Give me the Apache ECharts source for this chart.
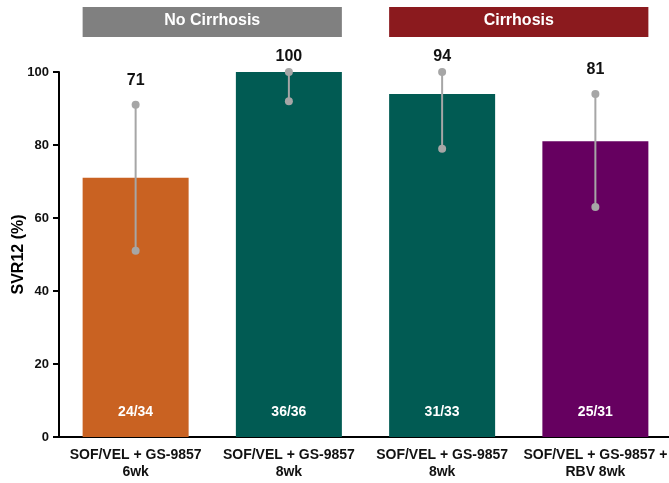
<!DOCTYPE html>
<html>
<head>
<meta charset="utf-8">
<script src="https://cdn.jsdelivr.net/npm/echarts@6/dist/echarts.min.js"></script>
<style>
    html, body { margin: 0; padding: 0; background: #fff; }
    #chart { width: 669px; height: 483px; }
</style>
</head>
<body>
<div id="chart"></div>
<script>
    // data
    var categories = ['SOF/VEL + GS-9857\n6wk', 'SOF/VEL + GS-9857\n8wk', 'SOF/VEL + GS-9857\n8wk', 'SOF/VEL + GS-9857 +\nRBV 8wk'];
    var svr = [71, 100, 94, 81];
    var ciLow = [51, 92, 79, 63];
    var ciHigh = [91, 100, 100, 94];
    var counts = ['24/34', '36/36', '31/33', '25/31'];
    var barColors = ['#C96222', '#015B53', '#015B53', '#660060'];
    var yTicks = [0, 20, 40, 60, 80, 100];
    var yTitle = 'SVR12 (%)';
    var groups = [
        { name: 'No Cirrhosis', from: 0, to: 1, color: '#808080' },
        { name: 'Cirrhosis', from: 2, to: 3, color: '#8B1A1E' }
    ];

    var barWidth = 106;
    var font = '"Liberation Sans", Arial, sans-serif';
    var myChart = echarts.init(document.getElementById('chart'));

    var barData = svr.map(function (v, i) {
        return { value: v, itemStyle: { color: barColors[i] } };
    });
    var errData = svr.map(function (v, i) {
        return [i, ciLow[i], ciHigh[i], v];
    });

    myChart.setOption({
        animation: false,
        grid: { left: 59, width: 613, top: 72, height: 365, outerBoundsMode: 'none', containLabel: false },
        xAxis: {
            type: 'category',
            data: categories,
            axisLine: { lineStyle: { color: '#000', width: 2 } },
            axisTick: { length: 6, lineStyle: { color: '#000', width: 2 } },
            axisLabel: {
                color: '#111', fontWeight: 'bold', fontSize: 14, lineHeight: 17,
                fontFamily: font, margin: 10, interval: 0
            }
        },
        yAxis: {
            type: 'value',
            min: yTicks[0],
            max: yTicks[yTicks.length - 1],
            interval: 20,
            axisLine: { show: true, lineStyle: { color: '#000', width: 2 } },
            axisTick: { show: true, length: 6, lineStyle: { color: '#000', width: 2 } },
            axisLabel: { color: '#111', fontWeight: 'bold', fontSize: 13, margin: 10, fontFamily: font },
            splitLine: { show: false }
        },
        series: [
            {
                type: 'bar',
                barWidth: barWidth,
                data: barData,
                label: {
                    show: true,
                    position: 'insideBottom',
                    distance: 18,
                    formatter: function (p) { return counts[p.dataIndex]; },
                    color: '#fff', fontWeight: 'bold', fontSize: 14, fontFamily: font
                },
                z: 2
            },
            {
                type: 'custom',
                data: errData,
                z: 5,
                renderItem: function (params, api) {
                    var x = api.coord([api.value(0), 0])[0];
                    var lo = api.coord([api.value(0), api.value(1)])[1];
                    var hi = api.coord([api.value(0), api.value(2)])[1];
                    var gray = '#A6A6A6';
                    var off = api.value(2) >= 100 ? 15 : 24;
                    return {
                        type: 'group',
                        children: [
                            { type: 'line', shape: { x1: x, y1: lo, x2: x, y2: hi }, style: { stroke: gray, lineWidth: 2 } },
                            { type: 'circle', shape: { cx: x, cy: lo, r: 4 }, style: { fill: gray } },
                            { type: 'circle', shape: { cx: x, cy: hi, r: 4 }, style: { fill: gray } },
                            {
                                type: 'text',
                                style: {
                                    x: x, y: hi - off, text: String(api.value(3)),
                                    fill: '#111', font: 'bold 16px ' + font,
                                    align: 'center', verticalAlign: 'middle'
                                }
                            }
                        ]
                    };
                }
            }
        ]
    });

    // header boxes above the bar groups
    var graphics = groups.map(function (g) {
        var x0 = myChart.convertToPixel({ xAxisIndex: 0 }, g.from) - barWidth / 2;
        var x1 = myChart.convertToPixel({ xAxisIndex: 0 }, g.to) + barWidth / 2;
        return {
            type: 'group',
            children: [
                { type: 'rect', shape: { x: x0, y: 7, width: x1 - x0, height: 30 }, style: { fill: g.color } },
                {
                    type: 'text',
                    style: {
                        x: (x0 + x1) / 2, y: 21, text: g.name, fill: '#fff',
                        font: 'bold 16px ' + font,
                        align: 'center', verticalAlign: 'middle'
                    }
                }
            ]
        };
    });
    // y-axis title, rotated, centred on the plot height
    var yMid = (myChart.convertToPixel({ yAxisIndex: 0 }, yTicks[0]) + myChart.convertToPixel({ yAxisIndex: 0 }, yTicks[yTicks.length - 1])) / 2;
    graphics.push({
        type: 'text',
        x: 19, y: yMid, rotation: Math.PI / 2,
        style: { text: yTitle, fill: '#000', font: 'bold 16px ' + font, align: 'center', verticalAlign: 'middle' }
    });
    myChart.setOption({ graphic: graphics });
</script>
</body>
</html>
